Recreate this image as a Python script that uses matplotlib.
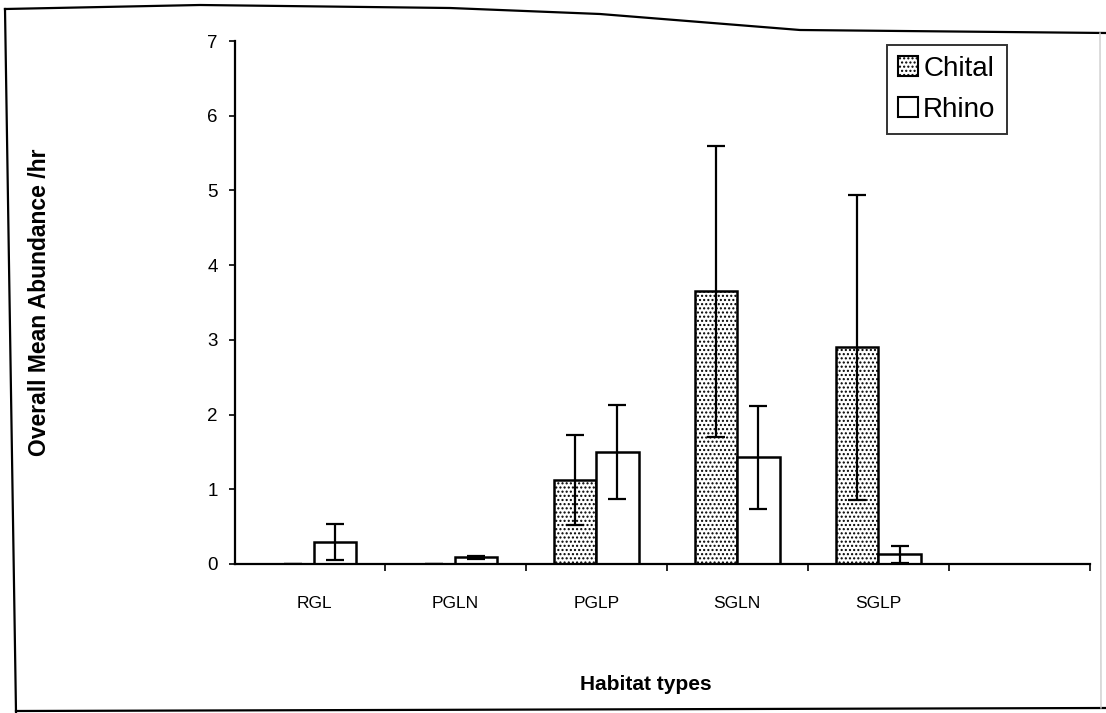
import numpy as np
import matplotlib
matplotlib.use("Agg")
import matplotlib.pyplot as plt
from matplotlib.lines import Line2D
from matplotlib.patches import Patch

plt.rcParams['font.family'] = ['Liberation Sans', 'DejaVu Sans']
plt.rcParams['hatch.linewidth'] = 1.0

# data
habitats = ["RGL", "PGLN", "PGLP", "SGLN", "SGLP"]
chital = [0.0, 0.0, 1.12, 3.65, 2.90]
chital_err = [0.0, 0.0, 0.60, 1.95, 2.04]
rhino = [0.29, 0.09, 1.50, 1.43, 0.13]
rhino_err = [0.24, 0.02, 0.63, 0.69, 0.11]

W, H = 1106, 713
fig = plt.figure(figsize=(W / 100, H / 100), dpi=100)
ax = fig.add_axes([235 / W, 1 - 564 / H, 855 / W, 523 / H])

x = np.arange(len(habitats))
bw = 0.3
err_kw = dict(elinewidth=1.6, capthick=1.6, ecolor="black")

ax.bar(x - bw / 2, chital, bw, color="white", edgecolor="black",
       linewidth=1.8, hatch="....", label="Chital",
       yerr=chital_err, capsize=6.5, error_kw=err_kw)
ax.bar(x + bw / 2, rhino, bw, color="white", edgecolor="black",
       linewidth=1.8, label="Rhino",
       yerr=rhino_err, capsize=6.5, error_kw=err_kw)

ax.set_xlim(-0.56, 5.5)
ax.set_ylim(0, 7)

ax.set_xticks(x)
ax.set_xticklabels(habitats, fontsize=12.5)
ax.set_xticks(np.arange(0.5, 6, 1), minor=True)
ax.tick_params(axis="x", which="major", length=0, pad=23)
ax.tick_params(axis="x", which="minor", length=5, width=1.2, direction="out")
ax.set_yticks(range(8))
ax.tick_params(axis="y", labelsize=13.5, length=4, width=1.2, direction="out", pad=8.5)

for s in ["top", "right"]:
    ax.spines[s].set_visible(False)
ax.spines["left"].set_linewidth(1.6)
ax.spines["bottom"].set_linewidth(1.6)

ax.set_ylabel("Overall Mean Abundance /hr", fontsize=16.5, fontweight="bold")
ax.yaxis.set_label_coords(-0.215, 0.5)
ax.set_xlabel("Habitat types", fontsize=15, fontweight="bold")
ax.xaxis.set_label_coords(0.48, -0.213)

handles = [Patch(facecolor="white", edgecolor="black", hatch="....", linewidth=1.5),
           Patch(facecolor="white", edgecolor="black", linewidth=1.5)]
leg = ax.legend(handles, ["Chital", "Rhino"], loc="upper left",
                bbox_to_anchor=(0.762, 0.993), fontsize=20, frameon=True,
                fancybox=False, handlelength=0.72, handleheight=0.72,
                handletextpad=0.2, borderpad=0.4, labelspacing=0.55,
                borderaxespad=0)
leg.get_frame().set_edgecolor("black")
leg.get_frame().set_linewidth(1.4)

# scanned page frame
def px(xs, ys):
    return [v / W for v in xs], [1 - v / H for v in ys]

fx, fy = px([5, 200, 450, 600, 700, 800, 1106], [9, 5, 8, 14, 22, 30, 33])
fig.add_artist(Line2D(fx, fy, color="black", lw=1.6))
fx, fy = px([5, 16], [9, 712])
fig.add_artist(Line2D(fx, fy, color="black", lw=1.6))
fx, fy = px([16, 1106], [711, 708])
fig.add_artist(Line2D(fx, fy, color="black", lw=1.6))
fx, fy = px([1100, 1101], [33, 708])
fig.add_artist(Line2D(fx, fy, color="#cccccc", lw=1.0))

fig.savefig("out.png", dpi=100)
